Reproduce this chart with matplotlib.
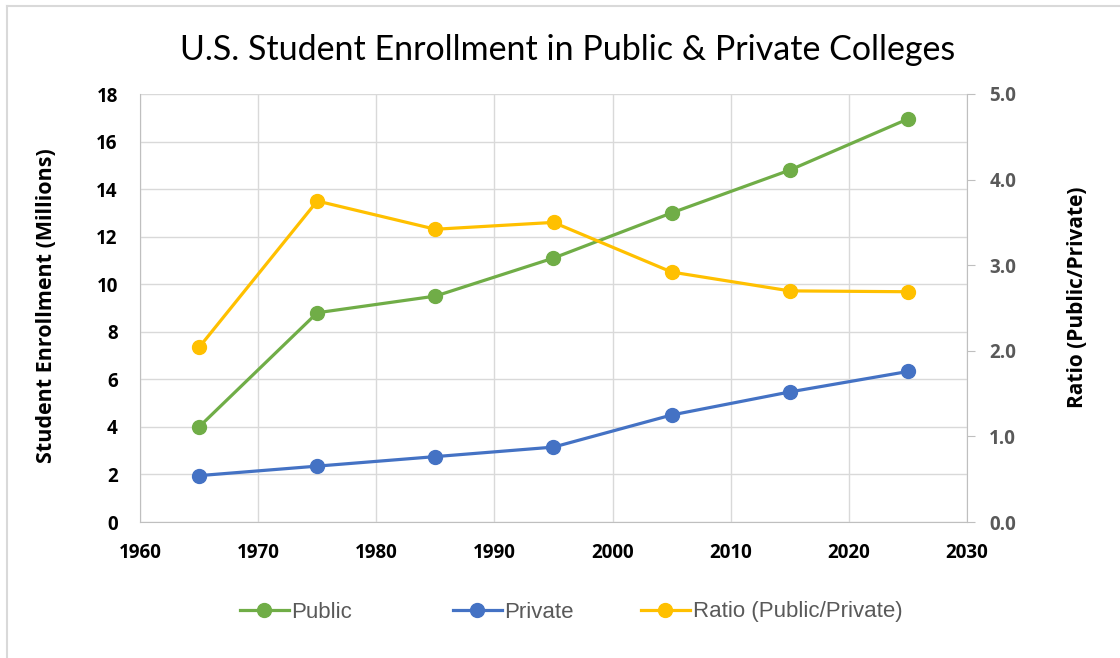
import matplotlib
matplotlib.use("Agg")
import matplotlib.pyplot as plt
from matplotlib.lines import Line2D

years = [1965, 1975, 1985, 1995, 2005, 2015, 2025]
public = [4.0, 8.8, 9.5, 11.1, 13.0, 14.8, 16.95]
private = [1.95, 2.35, 2.75, 3.15, 4.5, 5.47, 6.33]
ratio = [2.04, 3.75, 3.42, 3.50, 2.92, 2.70, 2.69]

left_ticks = list(range(0, 19, 2))
right_ticks = [0.0, 1.0, 2.0, 3.0, 4.0, 5.0]
x_ticks = list(range(1960, 2031, 10))
labels = ["Public", "Private", "Ratio (Public/Private)"]

GREEN = "#70AD47"
BLUE = "#4472C4"
GOLD = "#FFC000"
GRID = "#D9D9D9"
AX = "#BFBFBF"
BOLD = "Open Sans"

fig = plt.figure(figsize=(11.2, 6.58), dpi=100)
ax = fig.add_axes([140/1120, 1-522/658, (967-140)/1120, (522-94)/658])
ax2 = ax.twinx()

lw = 2.3
ms = 10
ax.plot(years, public, color=GREEN, lw=lw, marker="o", ms=ms, zorder=3)
ax.plot(years, private, color=BLUE, lw=lw, marker="o", ms=ms, zorder=3)
ax2.plot(years, ratio, color=GOLD, lw=lw, marker="o", ms=ms, zorder=3)

ax.set_xlim(1960, 2030)
ax.set_ylim(0, 18)
ax2.set_ylim(0, 5)
ax.set_xticks(x_ticks)
ax.set_yticks(left_ticks)
ax2.set_yticks(right_ticks)
ax2.set_yticklabels([f"{v:.1f}" for v in right_ticks])

ax.grid(True, color=GRID, lw=1)
ax.set_axisbelow(True)
for s in ["top", "right"]:
    ax.spines[s].set_visible(False)
ax.spines["left"].set_color(AX)
ax.spines["bottom"].set_color(AX)
for s in ["top", "left", "bottom"]:
    ax2.spines[s].set_visible(False)
ax2.spines["right"].set_color(AX)

ax.tick_params(axis="both", length=0, labelsize=13.5, labelcolor="black")
ax.tick_params(axis="y", pad=16)
ax.tick_params(axis="x", pad=15)
ax2.tick_params(axis="y", length=6, color=AX, labelsize=13.5, labelcolor="#595959", pad=10)
for lab in ax.get_xticklabels() + ax.get_yticklabels() + ax2.get_yticklabels():
    lab.set_fontfamily(BOLD)
    lab.set_fontweight("bold")

ax.set_ylabel("Student Enrollment (Millions)", fontsize=15.5, fontweight="bold",
              fontfamily=BOLD)
ax.yaxis.set_label_coords(-0.1, 0.505)
ax2.set_ylabel("Ratio (Public/Private)", fontsize=15, fontweight="bold",
               fontfamily=BOLD, rotation=90)
ax2.yaxis.set_label_coords(1.121, 0.525)

fig.text(568/1120, 1-50/658, "U.S. Student Enrollment in Public & Private Colleges",
         ha="center", va="center", fontsize=24.5, fontfamily="Lato", color="black")

# legend entries placed individually (Excel-style spacing)
starts = [240, 453, 641]
for c, lab, x0 in zip((GREEN, BLUE, GOLD), labels, starts):
    h = Line2D([], [], color=c, lw=lw, marker="o", ms=ms)
    lg = fig.legend([h], [lab], loc="center left", bbox_to_anchor=(x0/1120, 1-612/658),
                    frameon=False, handlelength=2.2, handletextpad=0.12,
                    borderpad=0, borderaxespad=0,
                    prop={"family": "Liberation Sans", "size": 16})
    for t in lg.get_texts():
        t.set_color("#595959")

# partial chart border (left and top)
fig.add_artist(Line2D([7/1120, 7/1120], [0, 1-6/658], transform=fig.transFigure, color="#D9D9D9", lw=1.5))
fig.add_artist(Line2D([7/1120, 1], [1-6/658, 1-6/658], transform=fig.transFigure, color="#D9D9D9", lw=1.5))

fig.savefig("out.png", dpi=100)
